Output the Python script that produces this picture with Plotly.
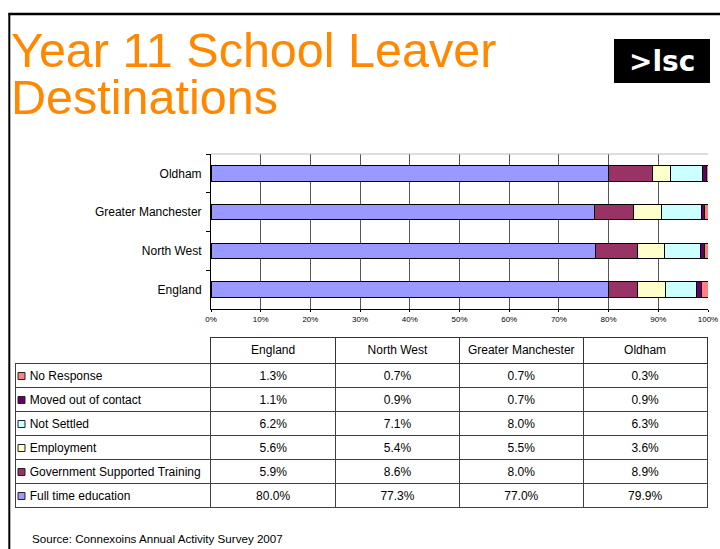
import plotly.graph_objects as go

W, H = 720, 549

# ---------------- data ----------------
categories = ['England', 'North West', 'Greater Manchester', 'Oldham']
series_names = ['Full time education', 'Government Supported Training', 'Employment',
                'Not Settled', 'Moved out of contact', 'No Response']
full_time = [80.0, 77.3, 77.0, 79.9]
gov_training = [5.9, 8.6, 8.0, 8.9]
employment = [5.6, 5.4, 5.5, 3.6]
not_settled = [6.2, 7.1, 8.0, 6.3]
moved_out = [1.1, 0.9, 0.7, 0.9]
no_response = [1.3, 0.7, 0.7, 0.3]
x_ticks = [0, 10, 20, 30, 40, 50, 60, 70, 80, 90, 100]
x_tick_labels = [f'{t}%' for t in x_ticks]
title_lines = ['Year 11 School Leaver', 'Destinations']
source_text = 'Source: Connexoins Annual Activity Survey 2007'

series_values = [full_time, gov_training, employment, not_settled, moved_out, no_response]
colors = ['#9999FF', '#993366', '#FFFFCC', '#CCFFFF', '#660066', '#FF8080']

FONT = 'Arial, Liberation Sans, sans-serif'
NB = '\u00a0'


def px(x):
    return x / W


def py(y):
    return 1 - y / H


fig = go.Figure()

for name, vals, col in zip(series_names, series_values, colors):
    fig.add_trace(go.Bar(
        y=categories, x=vals, name=name, orientation='h',
        marker=dict(color=col, line=dict(color='black', width=1)),
        showlegend=False, xaxis='x', yaxis='y'))

# ---------------- table ----------------
rows = list(range(len(series_names)))[::-1]
label_col = [NB * 2 + series_names[i].replace(' ', NB) for i in rows]
data_cols = []
for c in range(len(categories)):
    data_cols.append([f'{series_values[i][c]:.1f}%' for i in rows])
header_vals = [''] + [c.replace(' ', NB) for c in categories]

fig.add_trace(go.Table(
    domain=dict(x=[px(15), px(708)], y=[py(530), py(337)]),
    columnwidth=[196, 125, 124, 124, 124],
    header=dict(values=header_vals, height=26, align='center',
                line=dict(color=['rgba(0,0,0,0)'] + ['#333333'] * 4, width=1),
                fill=dict(color='white'),
                font=dict(family=FONT, size=12, color='black')),
    cells=dict(values=[label_col] + data_cols, height=24,
               align=['left', 'center', 'center', 'center', 'center'],
               line=dict(color='#404040', width=1),
               fill=dict(color='white'),
               font=dict(family=FONT, size=12, color='black'))
))

shapes = []
# legend squares in table
for k, i in enumerate(rows):
    cy = 364 + 24 * k + 12
    shapes.append(dict(type='rect', xref='paper', yref='paper',
                       x0=px(18), x1=px(25), y0=py(cy + 3.5), y1=py(cy - 3.5),
                       fillcolor=colors[i], line=dict(color='#222222', width=1)))
# plot area top border
shapes.append(dict(type='line', xref='paper', yref='paper',
                   x0=px(211), x1=px(708), y0=py(154), y1=py(154),
                   line=dict(color='#BBBBBB', width=1)))
# slide border
shapes.append(dict(type='line', xref='paper', yref='paper',
                   x0=px(8.5), x1=1.0, y0=py(14), y1=py(14),
                   line=dict(color='black', width=2.5)))
shapes.append(dict(type='line', xref='paper', yref='paper',
                   x0=px(9.3), x1=px(9.3), y0=py(13), y1=0,
                   line=dict(color='black', width=2)))
# logo box
shapes.append(dict(type='rect', xref='paper', yref='paper',
                   x0=px(614), x1=px(710), y0=py(83), y1=py(39),
                   fillcolor='black', line=dict(width=0)))

annotations = [
    dict(text=title_lines[0], x=px(9), y=py(50), xref='paper', yref='paper',
         xanchor='left', yanchor='middle', showarrow=False,
         font=dict(family=FONT, size=48.5, color='#FF8800')),
    dict(text=title_lines[1], x=px(9), y=py(97), xref='paper', yref='paper',
         xanchor='left', yanchor='middle', showarrow=False,
         font=dict(family=FONT, size=48.5, color='#FF8800')),
    dict(text='>lsc', x=px(662), y=py(62), xref='paper', yref='paper',
         xanchor='center', yanchor='middle', showarrow=False,
         font=dict(family='DejaVu Sans', size=28, color='white', weight='bold')),
    dict(text=source_text, x=px(30), y=py(538), xref='paper', yref='paper',
         xanchor='left', yanchor='middle', showarrow=False,
         font=dict(family=FONT, size=11.6, color='black')),
]

fig.update_layout(
    width=W, height=H, margin=dict(l=0, r=0, t=0, b=0, autoexpand=False),
    paper_bgcolor='white', plot_bgcolor='white',
    barmode='stack', barnorm='percent', bargap=0.6,
    font=dict(family=FONT, color='black'),
    xaxis=dict(domain=[px(211), px(708)], range=[0, 100],
               tickvals=x_ticks, ticktext=x_tick_labels,
               tickfont=dict(size=8, color='black'),
               showgrid=True, gridcolor='#555555', gridwidth=1,
               showline=True, linecolor='black', linewidth=1,
               ticks='outside', ticklen=2, tickcolor='black',
               zeroline=False, fixedrange=True, automargin=False),
    yaxis=dict(domain=[py(309), py(154)], type='category',
               categoryorder='array', categoryarray=categories,
               tickson='boundaries', ticks='outside', ticklen=4, tickcolor='black',
               showline=True, linecolor='black', linewidth=1,
               showgrid=False, zeroline=False, ticklabelstandoff=6,
               tickfont=dict(size=12, color='black'), fixedrange=True,
               automargin=False),
    shapes=shapes, annotations=annotations,
)

fig.write_html('out.html')
